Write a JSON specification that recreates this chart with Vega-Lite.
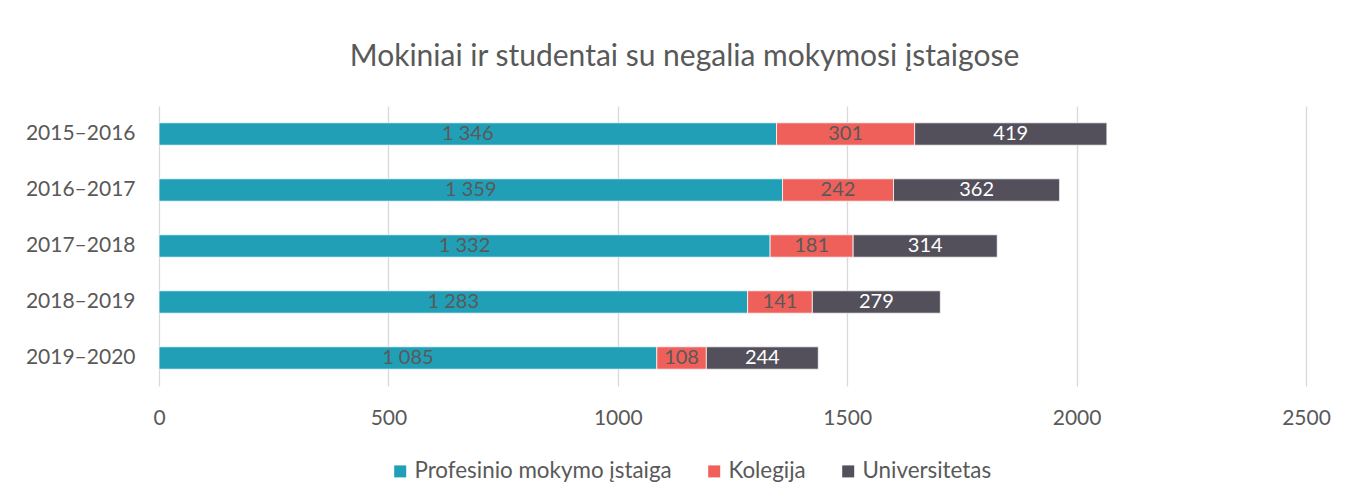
{
  "$schema": "https://vega.github.io/schema/vega-lite/v6.json",
  "autosize": {"type": "none"},
  "width": 1147,
  "height": 280,
  "padding": {"left": 159, "top": 106, "right": 43, "bottom": 116},
  "background": "white",
  "title": {
    "text": "Mokiniai ir studentai su negalia mokymosi įstaigose",
    "font": "Lato",
    "fontSize": 30,
    "fontWeight": "normal",
    "color": "#595959",
    "anchor": "middle",
    "dx": -48,
    "offset": 34
  },
  "config": {
    "view": {"stroke": null},
    "font": "Lato",
    "locale": {
      "number": {"decimal": ",", "thousands": " ", "grouping": [3], "currency": ["", " €"]}
    }
  },
  "data": {
    "values": [
      {"year": "2015–2016", "type": "Profesinio mokymo įstaiga", "ord": 1, "value": 1346},
      {"year": "2015–2016", "type": "Kolegija", "ord": 2, "value": 301},
      {"year": "2015–2016", "type": "Universitetas", "ord": 3, "value": 419},
      {"year": "2016–2017", "type": "Profesinio mokymo įstaiga", "ord": 1, "value": 1359},
      {"year": "2016–2017", "type": "Kolegija", "ord": 2, "value": 242},
      {"year": "2016–2017", "type": "Universitetas", "ord": 3, "value": 362},
      {"year": "2017–2018", "type": "Profesinio mokymo įstaiga", "ord": 1, "value": 1332},
      {"year": "2017–2018", "type": "Kolegija", "ord": 2, "value": 181},
      {"year": "2017–2018", "type": "Universitetas", "ord": 3, "value": 314},
      {"year": "2018–2019", "type": "Profesinio mokymo įstaiga", "ord": 1, "value": 1283},
      {"year": "2018–2019", "type": "Kolegija", "ord": 2, "value": 141},
      {"year": "2018–2019", "type": "Universitetas", "ord": 3, "value": 279},
      {"year": "2019–2020", "type": "Profesinio mokymo įstaiga", "ord": 1, "value": 1085},
      {"year": "2019–2020", "type": "Kolegija", "ord": 2, "value": 108},
      {"year": "2019–2020", "type": "Universitetas", "ord": 3, "value": 244}
    ]
  },
  "encoding": {
    "y": {
      "field": "year",
      "type": "nominal",
      "sort": ["2015–2016", "2016–2017", "2017–2018", "2018–2019", "2019–2020"],
      "scale": {"paddingInner": 0.6, "paddingOuter": 0.3},
      "axis": {
        "title": null,
        "domain": false,
        "ticks": false,
        "labelFont": "Lato",
        "labelFontSize": 21,
        "labelColor": "#595959",
        "labelPadding": 24
      }
    }
  },
  "layer": [
    {
      "mark": {"type": "bar", "stroke": "white", "strokeWidth": 0.75},
      "encoding": {
        "x": {
          "field": "value",
          "type": "quantitative",
          "stack": "zero",
          "scale": {"domain": [0, 2500], "nice": false},
          "axis": {
            "title": null,
            "values": [0, 500, 1000, 1500, 2000, 2500],
            "format": "d",
            "domain": false,
            "ticks": false,
            "grid": true,
            "gridColor": "#d9d9d9",
            "gridWidth": 1.3,
            "labelFlush": false,
            "labelFont": "Lato",
            "labelFontSize": 21,
            "labelColor": "#595959",
            "labelPadding": 21
          }
        },
        "order": {"field": "ord", "type": "quantitative"},
        "color": {
          "field": "type",
          "type": "nominal",
          "sort": ["Profesinio mokymo įstaiga", "Kolegija", "Universitetas"],
          "scale": {
            "domain": ["Profesinio mokymo įstaiga", "Kolegija", "Universitetas"],
            "range": ["#219fb6", "#f0605a", "#534f5b"]
          },
          "legend": {
            "title": null,
            "orient": "none",
            "direction": "horizontal",
            "legendX": 230,
            "legendY": 354,
            "symbolType": "square",
            "symbolSize": 144,
            "symbolStrokeWidth": 0,
            "labelFont": "Lato",
            "labelFontSize": 22.4,
            "labelLimit": 400,
            "labelColor": "#595959",
            "labelOffset": 3,
            "columnPadding": 31
          }
        }
      }
    },
    {
      "mark": {"type": "text", "font": "Lato", "fontSize": 20, "baseline": "middle", "align": "center"},
      "encoding": {
        "x": {"field": "value", "type": "quantitative", "stack": "zero", "bandPosition": 0.5},
        "order": {"field": "ord", "type": "quantitative"},
        "detail": {"field": "type"},
        "text": {"field": "value", "type": "quantitative", "format": ",d"},
        "color": {
          "condition": {"test": "datum.type === 'Universitetas'", "value": "white"},
          "value": "#595959"
        }
      }
    }
  ]
}
